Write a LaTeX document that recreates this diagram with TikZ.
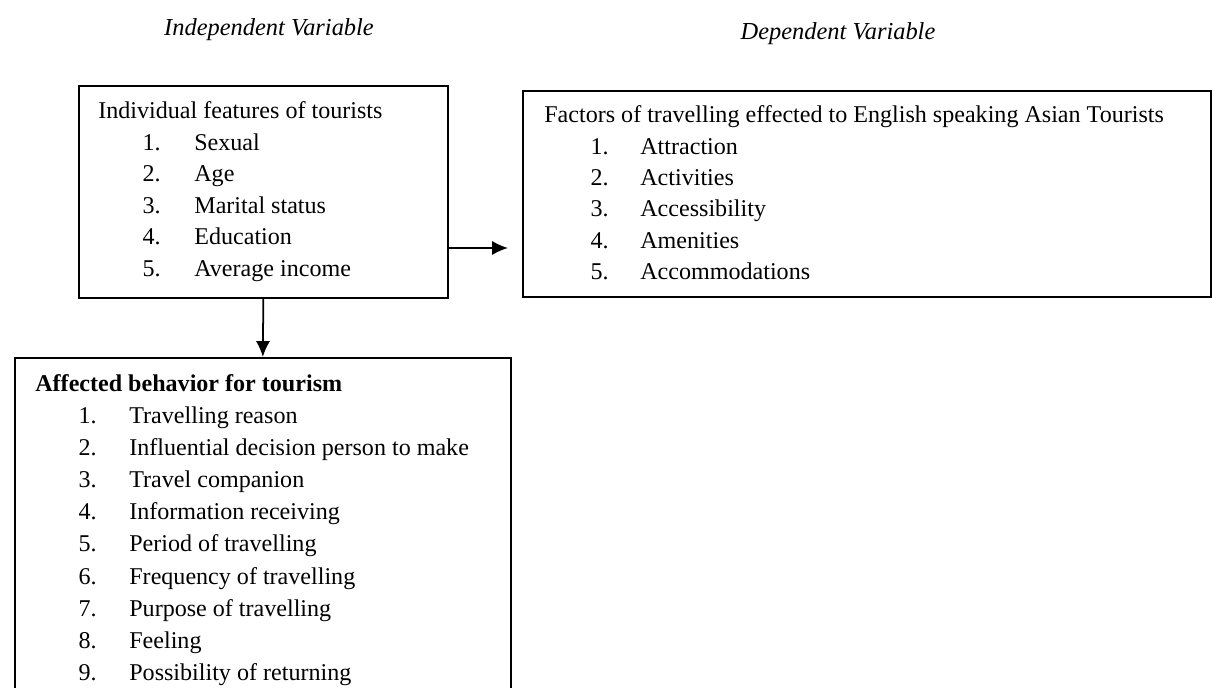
\documentclass[tikz,border=0pt]{standalone}
\usepackage{fontspec}
\setmainfont{Liberation Serif}
\usetikzlibrary{positioning,arrows.meta}

\begin{document}
\begin{tikzpicture}[x=0.02cm,y=-0.02cm,
    box/.style={draw,line width=1pt,anchor=north west,inner sep=0pt},
    txt/.style={anchor=base west,inner sep=0pt,font=\fontsize{13.7}{16}\selectfont},
    num/.style={anchor=base east,inner sep=0pt,font=\fontsize{13.7}{16}\selectfont},
    head/.style={inner sep=0pt,font=\fontsize{13.9}{16}\selectfont\itshape},
    link/.style={line width=1pt,-{Latex[length=9pt,width=8pt]}}]
    \useasboundingbox (0,0) rectangle (1213,688);

    \node[head] (indephead) at (269,30) {Independent Variable};
    \node[head] (dephead) at (838,34) {Dependent Variable};

    % boxes
    \node[box,minimum width=7.38cm,minimum height=4.24cm] (indep) at (78,85) {};
    \node[box,minimum width=13.76cm,minimum height=4.12cm] (factors) at (522,90) {};
    \node[box,minimum width=9.92cm,minimum height=7cm] (behav) at (14,357) {};

    % individual features
    \node[txt] (indeptitle) at (98,119) {Individual features of tourists};
    \foreach \t [count=\i] in {Sexual,Age,Marital status,Education,Average income}{
        \node[num] (indepnum\i) at (161,119+31.5*\i) {\i.};
        \node[txt] (indepitem\i) at (194,119+31.5*\i) {\t};
    }

    % factors of travelling
    \node[txt] (factorstitle) at (544,123) {Factors of travelling effected to English speaking Asian Tourists};
    \foreach \t [count=\i] in {Attraction,Activities,Accessibility,Amenities,Accommodations}{
        \node[num] (factorsnum\i) at (609,123+31.3*\i) {\i.};
        \node[txt] (factorsitem\i) at (640,123+31.3*\i) {\t};
    }

    % affected behavior
    \node[txt,font=\fontsize{13.7}{16}\selectfont\bfseries] (behavtitle) at (35,392) {Affected behavior for tourism};
    \foreach \t [count=\i] in {Travelling reason,Influential decision person to make,Travel companion,
        Information receiving,Period of travelling,Frequency of travelling,Purpose of travelling,
        Feeling,Possibility of returning}{
        \node[num] (behavnum\i) at (97,392+32*\i) {\i.};
        \node[txt] (behavitem\i) at (129,392+32*\i) {\t};
    }

    % arrows
    \coordinate (arrowrow) at (0,248);
    \draw[link,shorten >=0.28cm] (indep.east |- arrowrow) -- (factors.west |- arrowrow);
    \draw[link] (indep.south) -- (behav.north);
\end{tikzpicture}
\end{document}
